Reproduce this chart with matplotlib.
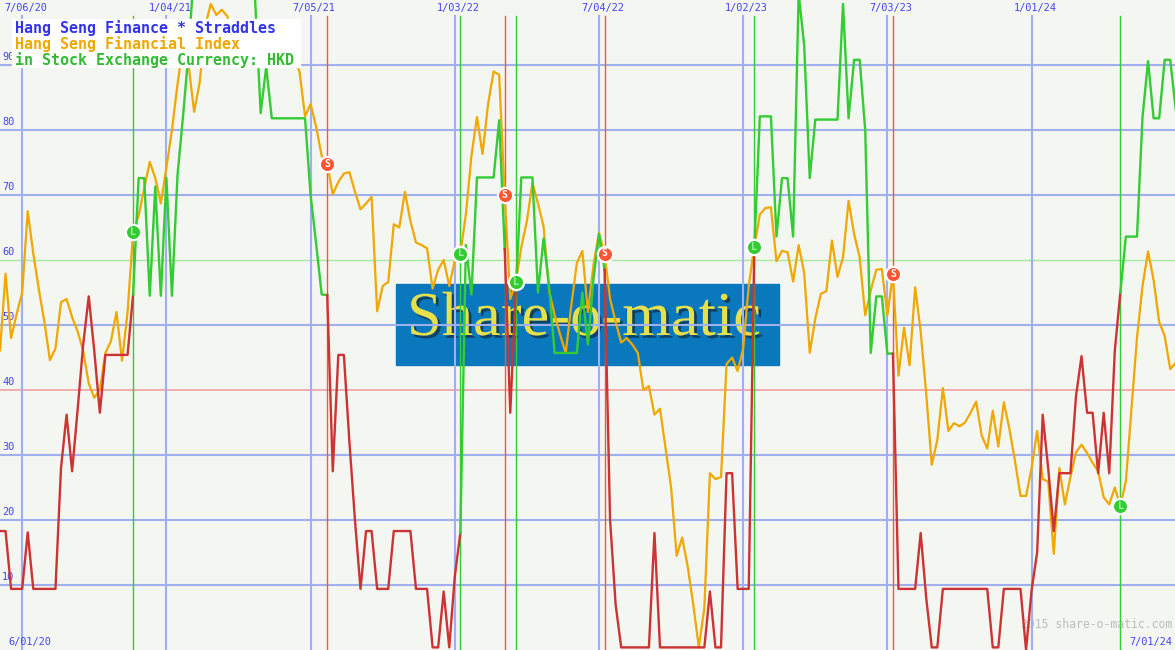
import pandas as pd
import numpy as np
import matplotlib
matplotlib.use("Agg")
import matplotlib.pyplot as plt
import matplotlib.dates as mdates
import matplotlib.patheffects as pe
from matplotlib.patches import Rectangle
from matplotlib.transforms import blended_transform_factory

# weekly data, first week = Monday 8 June 2020
start = "2020-06-08"

index_line = [
    46.1, 57.9, 48, 51.7, 55, 67.5, 61, 55.5, 50.5, 44.6,
    46.4, 53.5, 54, 51.2, 49, 46, 41, 38.8, 40, 45.7,
    47.5, 52, 44.5, 52, 64.3, 66.8, 71, 75.1, 72.6, 68.7,
    74.2, 80, 87, 93, 90, 82.8, 87.3, 96, 99.4, 97.7,
    98.5, 97.5, 94, 93, 95, 94, 95, 92, 93, 91,
    94, 93, 95, 91, 89, 82.1, 84, 80.5, 76, 74.8,
    70.1, 72, 73.3, 73.5, 70.5, 67.8, 68.7, 69.7, 52.1, 56,
    56.6, 65.5, 65, 70.5, 66, 62.7, 62.3, 61.8, 55.6, 58.5,
    60, 56, 59.9, 61, 67, 76, 82, 76.3, 84, 89,
    88.5, 70, 54, 56.6, 62, 66, 71.9, 68.7, 65.2, 55.3,
    51.5, 48.5, 45.7, 53, 59.5, 61.4, 52, 59.2, 64.2, 61,
    54, 50.5, 47.3, 48, 47, 45.7, 40, 40.6, 36.2, 37.1,
    31, 25, 14.5, 17.3, 12.8, 7, 0.4, 6.5, 27.2, 26.3,
    26.6, 44, 45, 42.9, 46.4, 56, 62, 67, 68, 68.1,
    59.8, 61.4, 61.2, 56.7, 62.3, 58, 45.7, 51, 54.8, 55.2,
    63, 57.4, 60.4, 69.1, 64, 60.4, 51.5, 55.3, 58.5, 58.6,
    51.5, 57.9, 42.2, 49.6, 43.8, 55.8, 49, 39.4, 28.5, 32.3,
    40.3, 33.7, 34.9, 34.4, 35, 36.5, 38.2, 33, 31, 36.8,
    31.3, 38.1, 34, 29.1, 23.7, 23.7, 28, 33.7, 26.3, 25.9,
    14.8, 28, 22.4, 26.6, 30.4, 31.6, 30.3, 28.8, 27.5, 23.5,
    22.4, 25, 22.1, 26, 37, 48, 56, 61.3, 56.9, 50.5,
    48.3, 43.2, 44.2,
]

straddle = [
    18.3, 18.3, 9.4, 9.4, 9.4, 18.1, 9.4, 9.4, 9.4, 9.4,
    9.4, 28, 36.2, 27.5, 37, 47, 54.4, 46, 36.5, 45.4,
    45.4, 45.4, 45.4, 45.4, 54.7, 72.6, 72.6, 54.5, 71.3, 54.5,
    72.6, 54.5, 73, 82.1, 92, 105, 105, 105, 105, 105,
    105, 105, 105, 105, 105, 105, 100, 82.6, 89.7, 81.8,
    81.8, 81.8, 81.8, 81.8, 81.8, 81.8, 70, 62.5, 54.7, 54.6,
    27.5, 45.4, 45.4, 32, 20, 9.4, 18.3, 18.3, 9.4, 9.4,
    9.4, 18.3, 18.3, 18.3, 18.3, 9.4, 9.4, 9.4, 0.4, 0.4,
    9, 0.4, 11.3, 18, 62.3, 54.7, 72.7, 72.7, 72.7, 72.7,
    81.5, 61.7, 36.5, 55.3, 72.7, 72.7, 72.7, 55, 63.3, 56,
    45.7, 45.7, 45.7, 45.7, 45.7, 55, 47, 57, 64, 58.5,
    20, 7, 0.4, 0.4, 0.4, 0.4, 0.4, 0.4, 18, 0.4,
    0.4, 0.4, 0.4, 0.4, 0.4, 0.4, 0.4, 0.4, 9, 0.4,
    0.4, 27.2, 27.2, 9.4, 9.4, 9.4, 61.7, 82.1, 82.1, 82.1,
    63.6, 72.6, 72.6, 63.6, 101, 93, 72.6, 81.6, 81.6, 81.6,
    81.6, 81.6, 99.4, 81.8, 90.8, 90.8, 80, 45.7, 54.4, 54.4,
    45.6, 45.6, 9.4, 9.4, 9.4, 9.4, 18, 8, 0.4, 0.4,
    9.4, 9.4, 9.4, 9.4, 9.4, 9.4, 9.4, 9.4, 9.4, 0.4,
    0.4, 9.4, 9.4, 9.4, 9.4, 0, 9.2, 15, 36.2, 27.9,
    18.3, 27.2, 27.2, 27.2, 39, 45.2, 36.5, 36.5, 27.2, 36.5,
    27.2, 46, 55, 63.6, 63.6, 63.6, 82, 90.6, 81.8, 81.8,
    90.8, 90.8, 83.1,
]

# buy (L) / sell (S) signals: week number and type
signal_weeks = [24, 59, 83, 91, 93, 109, 136, 161, 202]
signal_types = ["L", "S", "L", "S", "L", "S", "L", "S", "L"]

grid_dates = ["2020-07-06", "2021-01-04", "2021-07-05", "2022-01-03",
              "2022-07-04", "2023-01-02", "2023-07-03", "2024-01-01"]
grid_labels = ["7/06/20", "1/04/21", "7/05/21", "1/03/22",
               "7/04/22", "1/02/23", "7/03/23", "1/01/24"]
y_levels = [10, 20, 30, 40, 50, 60, 70, 80, 90]

BG = "#f4f6f2"
GRID = "#a0b0ee"
TXT = "#4444ee"
ORANGE = "#f0a800"
RED = "#cc3333"
GREEN = "#33cc33"
SRED = "#ff5533"
MONO = "DejaVu Sans Mono"

W, H = 1175, 650
fig = plt.figure(figsize=(W / 100, H / 100), dpi=100)
fig.patch.set_facecolor(BG)
ax = fig.add_axes([0, 0, 1, 1])
ax.set_facecolor(BG)
ax.axis("off")

dates = pd.date_range(start, periods=len(index_line), freq="7D")
ax.set_xlim(pd.Timestamp("2020-06-08"), pd.Timestamp("2024-06-30"))
ax.set_ylim(0, 100)

yax = blended_transform_factory(ax.transAxes, ax.transData)
xax = blended_transform_factory(ax.transData, ax.transAxes)

# share-o-matic watermark box
ax.add_patch(Rectangle((396 / W, 1 - 365 / H), 383 / W, 81 / H,
                       transform=ax.transAxes, color="#0a78bc", zorder=1))
ax.text(584 / W, 1 - 320 / H, "Share-o-matic", transform=ax.transAxes,
        ha="center", va="center", fontsize=45, family="Liberation Serif",
        color="#e6e04c", zorder=1.2,
        path_effects=[pe.withSimplePatchShadow(offset=(2, -2),
                                               shadow_rgbFace="#102a40",
                                               alpha=0.7)])

# horizontal grid
for v in y_levels:
    if v == 60:
        ax.axhline(v, color="#a8e8a0", lw=1.0, zorder=2)
    elif v == 40:
        ax.axhline(v, color="#f0a8a8", lw=1.3, zorder=2)
    else:
        ax.axhline(v, color=GRID, lw=1.5, zorder=2)
    ax.text(2 / W, v + 1.2, str(v), transform=yax, fontsize=7.4,
            family=MONO, color=TXT, va="center", ha="left", zorder=3)

# vertical grid + date labels
top = 1 - 16 / H
for d, lab in zip(grid_dates, grid_labels):
    x = mdates.date2num(pd.Timestamp(d))
    ax.axvline(x, ymax=top, color=GRID, lw=1.5, zorder=2)
    ax.annotate(lab, (x, 1 - 8 / H), xycoords=xax,
                xytext=(2.5, 0), textcoords="offset points",
                ha="center", va="center", fontsize=7.4, family=MONO,
                color=TXT, zorder=3)

ax.text(8 / W, 1 - 642 / H, "6/01/20", transform=ax.transAxes,
        fontsize=7.4, family=MONO, color=TXT, va="center", ha="left")
ax.text(1172 / W, 1 - 642 / H, "7/01/24", transform=ax.transAxes,
        fontsize=7.4, family=MONO, color=TXT, va="center", ha="right")
ax.text(1172 / W, 1 - 625 / H, "2015 share-o-matic.com",
        transform=ax.transAxes, fontsize=8.3, family=MONO,
        color="#bdbdbd", va="center", ha="right", zorder=1.5)

# signal lines
for w, t in zip(signal_weeks, signal_types):
    ax.axvline(dates[w], ymax=top, color=GREEN if t == "L" else SRED,
               lw=1.0, zorder=2.5)

# index line
ax.plot(dates, index_line, color=ORANGE, lw=1.6, zorder=4)

# straddle line, coloured by position (red = out, green = long)
edges = [0] + signal_weeks + [len(straddle) - 1]
state = "S"
for i in range(len(edges) - 1):
    a, b = edges[i], edges[i + 1]
    ax.plot(dates[a:b + 1], straddle[a:b + 1],
            color=GREEN if state == "L" else RED, lw=1.7, zorder=5)
    if i < len(signal_types):
        state = signal_types[i]

# signal markers on the index line
for w, t in zip(signal_weeks, signal_types):
    c = GREEN if t == "L" else SRED
    ax.plot(dates[w], index_line[w], "o", ms=11, mfc=c, mec="white",
            mew=1.6, zorder=7)
    ax.text(dates[w], index_line[w], t, ha="center", va="center",
            fontsize=7, family=MONO, color="white" if t == "S" else "#a0f0a0",
            fontweight="bold", zorder=8)

# legend box
ax.add_patch(Rectangle((12 / W, 1 - 67 / H), 288 / W, 48 / H,
                       transform=ax.transAxes, color="white", zorder=9))
legend = [("Hang Seng Finance * Straddles", "#3333ee"),
          ("Hang Seng Financial Index", ORANGE),
          ("in Stock Exchange Currency: HKD", "#33bb33")]
for k, (s, c) in enumerate(legend):
    ax.text(15 / W, 1 - (28 + 16 * k) / H, s, transform=ax.transAxes,
            fontsize=10.8, family=MONO, color=c, va="center", ha="left",
            fontweight="bold", zorder=10)

plt.savefig("out.png", dpi=100, facecolor=BG)
plt.close()
